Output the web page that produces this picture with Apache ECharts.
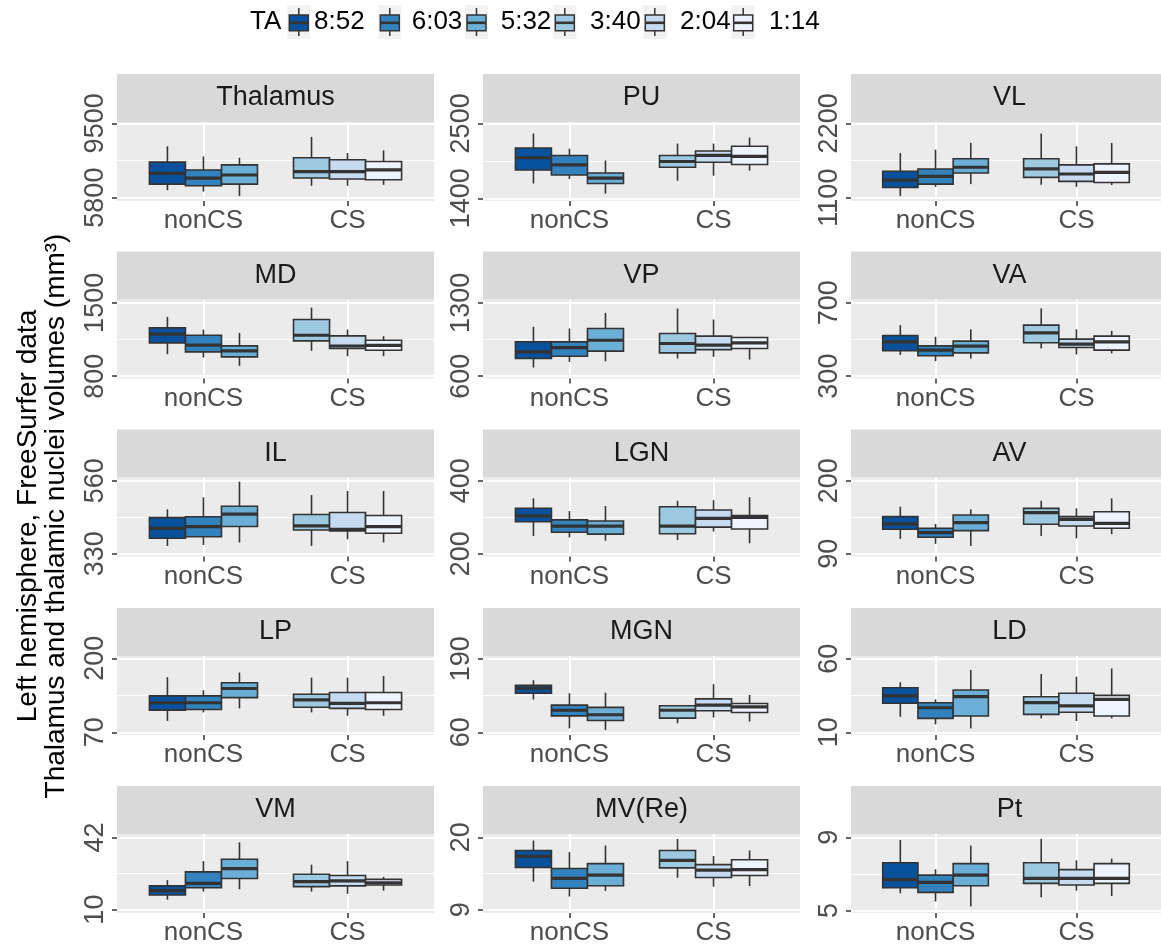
<!DOCTYPE html>
<html>
<head>
<meta charset="utf-8">
<script src="https://cdn.jsdelivr.net/npm/echarts@6/dist/echarts.min.js"></script>
<style>html,body{margin:0;padding:0;background:#fff}#c{width:1161px;height:951px}</style>
</head>
<body>
<div id="c"></div>
<script>
// ---------- data ----------
const TA = ['8:52', '6:03', '5:32', '3:40', '2:04', '1:14'];
const GROUPS = ['nonCS', 'CS'];
const taGroup = [0, 0, 0, 1, 1, 1];       // index into GROUPS
const taSlot = [0, 1, 2, 0, 1, 2];        // dodge slot within group
const regions = ['Thalamus', 'PU', 'VL', 'MD', 'VP', 'VA', 'IL', 'LGN', 'AV', 'LP', 'MGN', 'LD', 'VM', 'MV(Re)', 'Pt'];

// box stats per TA level: [lower whisker, Q1, median, Q3, upper whisker]
const thalamus = [[6170, 6473, 7011, 7566, 8357], [6103, 6389, 6776, 7179, 7852], [5884, 6473, 6927, 7432, 7785], [6389, 6776, 7095, 7785, 8828], [6389, 6725, 7095, 7684, 8020], [6439, 6691, 7179, 7600, 8155]];
const pu = [[1618, 1816, 1995, 2138, 2351], [1682, 1742, 1891, 2029, 2128], [1469, 1618, 1697, 1772, 1955], [1658, 1856, 1940, 2029, 2203], [1732, 1930, 2029, 2094, 2203], [1806, 1896, 2014, 2163, 2292]];
const vl = [[1125, 1250, 1360, 1490, 1760], [1260, 1300, 1415, 1525, 1810], [1300, 1465, 1550, 1675, 1910], [1290, 1400, 1525, 1675, 2050], [1260, 1340, 1450, 1585, 1860], [1285, 1325, 1475, 1600, 1910]];
const md = [[1010, 1118, 1201, 1261, 1366], [978, 1032, 1096, 1191, 1245], [899, 984, 1042, 1089, 1213], [1042, 1137, 1191, 1341, 1455], [991, 1064, 1088, 1185, 1245], [991, 1048, 1095, 1143, 1182]];
const vp = [[683, 769, 832, 928, 1071], [737, 791, 873, 928, 1055], [743, 839, 943, 1055, 1204], [769, 823, 912, 1007, 1246], [784, 854, 896, 982, 1141], [759, 864, 918, 969, 975]];
const va = [[415, 438, 487, 522, 578], [382, 411, 442, 465, 515], [396, 427, 464, 491, 555], [451, 482, 536, 578, 669], [418, 456, 475, 502, 555], [424, 442, 487, 518, 547]];
const il = [[355, 379, 410, 444, 470], [358, 384, 416, 447, 508], [366, 416, 455, 480, 557], [355, 405, 418, 454, 515], [376, 402, 407, 460, 528], [366, 395, 416, 451, 528]];
const lgn = [[249, 288, 304, 325, 352], [245, 259, 276, 293, 317], [236, 254, 276, 290, 331], [238, 255, 276, 329, 345], [261, 273, 297, 320, 347], [229, 268, 300, 305, 355]];
const av = [[112.5, 127, 135, 146, 161], [105, 115, 122, 128.5, 135], [102, 125, 137, 148.5, 157], [117, 134.5, 152, 158.5, 170], [113.5, 132, 142, 146, 158.5], [119.5, 128.5, 136, 153.5, 173.5]];
const lp = [[90, 109, 122, 134, 167], [105, 110, 122, 134, 144], [112, 131, 147, 157, 175], [105, 114, 127, 137, 166], [99, 112, 121, 140, 166], [99, 110, 122, 140, 169]];
const mgn = [[118, 129, 138, 143, 152], [67, 89, 99, 108, 129], [64, 81, 91, 104, 130], [76, 85, 99, 107, 107], [86, 98, 108, 119, 145], [79, 95, 105, 111, 126]];
const ld = [[20.6, 29.7, 34.7, 40.3, 44], [15.4, 19.5, 26.7, 30.1, 32.4], [12.7, 21.1, 34.2, 38.7, 52.3], [19.5, 22.2, 30.1, 34.2, 49.6], [17.7, 23.6, 27.9, 36.5, 47.8], [19.5, 21.1, 32.4, 35.1, 53.4]];
const vm = [[14.4, 16.5, 18.4, 20.5, 23.1], [18.0, 19.7, 21.6, 26.7, 31.5], [19.0, 23.8, 28.2, 32.3, 39.8], [18.0, 20.2, 22.4, 25.7, 29.9], [17.0, 20.5, 22.7, 25.1, 31.5], [18.4, 20.9, 21.9, 23.4, 24.5]];
const mvre = [[13.25, 15.4, 17.1, 18.0, 19.5], [11.0, 12.25, 13.75, 15.25, 17.75], [11.85, 12.65, 14.25, 16.0, 18.75], [13.85, 15.35, 16.5, 18.0, 19.75], [12.5, 13.9, 15.0, 15.85, 17.15], [12.6, 14.2, 15.1, 16.6, 18.0]];
const pt = [[5.94, 6.24, 6.69, 7.61, 8.85], [5.49, 5.99, 6.53, 6.93, 7.25], [5.22, 6.35, 6.93, 7.56, 8.55], [5.72, 6.48, 6.75, 7.61, 8.91], [6.08, 6.39, 6.75, 7.23, 7.74], [5.79, 6.48, 6.75, 7.56, 7.83]];
const regionStats = [thalamus, pu, vl, md, vp, va, il, lgn, av, lp, mgn, ld, vm, mvre, pt];

// y tick labels per panel
const yTicks = [[5800, 9500], [1400, 2500], [1100, 2200], [800, 1500], [600, 1300], [300, 700], [330, 560], [200, 400], [90, 200], [70, 200], [60, 190], [10, 60], [10, 42], [9, 20], [5, 9]];
// y axis limits per panel (scale range)
const yLimits = [[5632, 9567], [1360, 2520], [1050, 2220], [778, 1532], [578, 1332], [287, 718], [321.6, 570.5], [192.7, 409], [86, 205], [65.3, 204.1], [55.3, 194.7], [8.2, 61.8], [8.5, 43.5], [8.5, 20.5], [4.86, 9.18]];

// ---------- styles / layout ----------
const palette = ['#08519C', '#3182BD', '#6BAED6', '#9ECAE1', '#C6DBEF', '#EFF3FF'];
const FONT = '"Liberation Sans", Arial, sans-serif';
const colLeft = [117, 483, 851];
const colWidth = 317;
const rowTop = [122, 299.5, 477.5, 656, 834];
const plotH = 79;
const stripH = 48;
const DODGE = 0.25;
const LINE = '#333333';
const legendKeyX = [287.3, 378.3, 465, 553.3, 643.3, 731.7];
const legendTextX = [314, 411.7, 500.7, 590, 680, 769];

const chart = echarts.init(document.getElementById('c'), null, {renderer: 'canvas'});

const grids = [], xAxes = [], yAxes = [], series = [], graphics = [];

regions.forEach((name, p) => {
  const r = Math.floor(p / 3), c = p % 3;
  grids.push({left: colLeft[c], top: rowTop[r], width: colWidth, height: plotH,
    show: true, backgroundColor: '#EBEBEB', borderWidth: 0, containLabel: false});
  xAxes.push({
    gridIndex: p, type: 'value', min: -0.6, max: 1.6, position: 'bottom',
    axisLine: {show: false, onZero: false},
    axisTick: {show: true, customValues: [0, 1], length: 5, lineStyle: {color: LINE, width: 1.5}},
    axisLabel: {customValues: [0, 1], formatter: v => GROUPS[Math.round(v)], fontSize: 26, color: '#4D4D4D', fontFamily: FONT, margin: 7},
    splitLine: {show: true, lineStyle: {color: '#FFFFFF', width: 2}}
  });
  const t = yTicks[p], lim = yLimits[p];
  yAxes.push({
    gridIndex: p, type: 'value', min: lim[0], max: lim[1], position: 'left',
    axisLine: {show: false, onZero: false},
    axisTick: {show: true, customValues: t, length: 5, lineStyle: {color: LINE, width: 1.5}},
    axisLabel: {customValues: t, rotate: 90, fontSize: 27, color: '#4D4D4D', fontFamily: FONT, margin: 8,
      formatter: v => String(v)},
    splitLine: {show: true, lineStyle: {color: '#FFFFFF', width: 2}}
  });
  const mid = (t[0] + t[1]) / 2;
  yAxes.push({
    gridIndex: p, type: 'value', min: lim[0], max: lim[1], position: 'left',
    axisLine: {show: false, onZero: false},
    axisTick: {show: false, customValues: [mid]},
    axisLabel: {show: false, customValues: [mid]},
    splitLine: {show: true, lineStyle: {color: '#FFFFFF', width: 1}}
  });
  const data = regionStats[p].map((s, i) => [taGroup[i], taSlot[i], s[0], s[1], s[2], s[3], s[4], i]);
  series.push({
    type: 'custom', name: name, xAxisIndex: p, yAxisIndex: 2 * p,
    encode: {x: 0, y: [2, 3, 4, 5, 6]},
    data: data, z: 3,
    renderItem: (params, api) => {
      const xc = api.value(0) + (api.value(1) - 1) * DODGE;
      const toY = v => api.coord([xc, v])[1];
      const cx = api.coord([xc, api.value(2)])[0];
      const yMin = toY(api.value(2)), yQ1 = toY(api.value(3)), yMed = toY(api.value(4)), yQ3 = toY(api.value(5)), yMax = toY(api.value(6));
      const w = api.size([DODGE, 0])[0];
      const col = palette[api.value(7)];
      const st = {stroke: LINE, lineWidth: 1.6};
      return {type: 'group', children: [
        {type: 'line', shape: {x1: cx, y1: yMax, x2: cx, y2: yQ3}, style: st},
        {type: 'line', shape: {x1: cx, y1: yQ1, x2: cx, y2: yMin}, style: st},
        {type: 'rect', shape: {x: cx - w / 2, y: yQ3, width: w, height: yQ1 - yQ3}, style: {fill: col, stroke: LINE, lineWidth: 1.6}},
        {type: 'line', shape: {x1: cx - w / 2, y1: yMed, x2: cx + w / 2, y2: yMed}, style: {stroke: LINE, lineWidth: 3.2}}
      ]};
    }
  });
  // strip
  graphics.push({type: 'rect', left: colLeft[c], top: rowTop[r] - stripH, shape: {width: colWidth, height: stripH}, style: {fill: '#D9D9D9'}, silent: true});
  graphics.push({type: 'text', x: colLeft[c] + colWidth / 2, y: rowTop[r] - stripH / 2,
    style: {text: name, fill: '#1A1A1A', font: '27px ' + FONT, textAlign: 'center', textVerticalAlign: 'middle'}, silent: true});
});

// y axis title (two lines)
const titleCY = 516;
graphics.push({type: 'text', x: 28, y: titleCY, rotation: Math.PI / 2,
  style: {text: 'Left hemisphere, FreeSurfer data', fill: '#000', font: '28px ' + FONT, textAlign: 'center', textVerticalAlign: 'middle'}});
graphics.push({type: 'text', x: 56, y: titleCY, rotation: Math.PI / 2,
  style: {text: 'Thalamus and thalamic nuclei volumes (mm³)', fill: '#000', font: '28px ' + FONT, textAlign: 'center', textVerticalAlign: 'middle'}});

// legend
graphics.push({type: 'text', x: 250, y: 22, style: {text: 'TA', fill: '#000', font: '26px ' + FONT, textAlign: 'left', textVerticalAlign: 'middle'}});
TA.forEach((lab, i) => {
  const x = legendKeyX[i];
  graphics.push({type: 'rect', shape: {x: x, y: 5, width: 23, height: 34}, style: {fill: '#F2F2F2'}});
  graphics.push({type: 'line', shape: {x1: x + 11.5, y1: 8, x2: x + 11.5, y2: 36}, style: {stroke: LINE, lineWidth: 1.5}});
  graphics.push({type: 'rect', shape: {x: x + 2, y: 15, width: 19, height: 15.7}, style: {fill: palette[i], stroke: LINE, lineWidth: 1.5}});
  graphics.push({type: 'line', shape: {x1: x + 2, y1: 22.8, x2: x + 21, y2: 22.8}, style: {stroke: LINE, lineWidth: 2.6}});
  graphics.push({type: 'text', x: legendTextX[i], y: 22, style: {text: lab, fill: '#000', font: '26px ' + FONT, textAlign: 'left', textVerticalAlign: 'middle'}});
});

chart.setOption({
  animation: false,
  backgroundColor: '#FFFFFF',
  textStyle: {fontFamily: FONT},
  grid: grids,
  xAxis: xAxes,
  yAxis: yAxes,
  series: series,
  graphic: graphics
});
</script>
</body>
</html>
